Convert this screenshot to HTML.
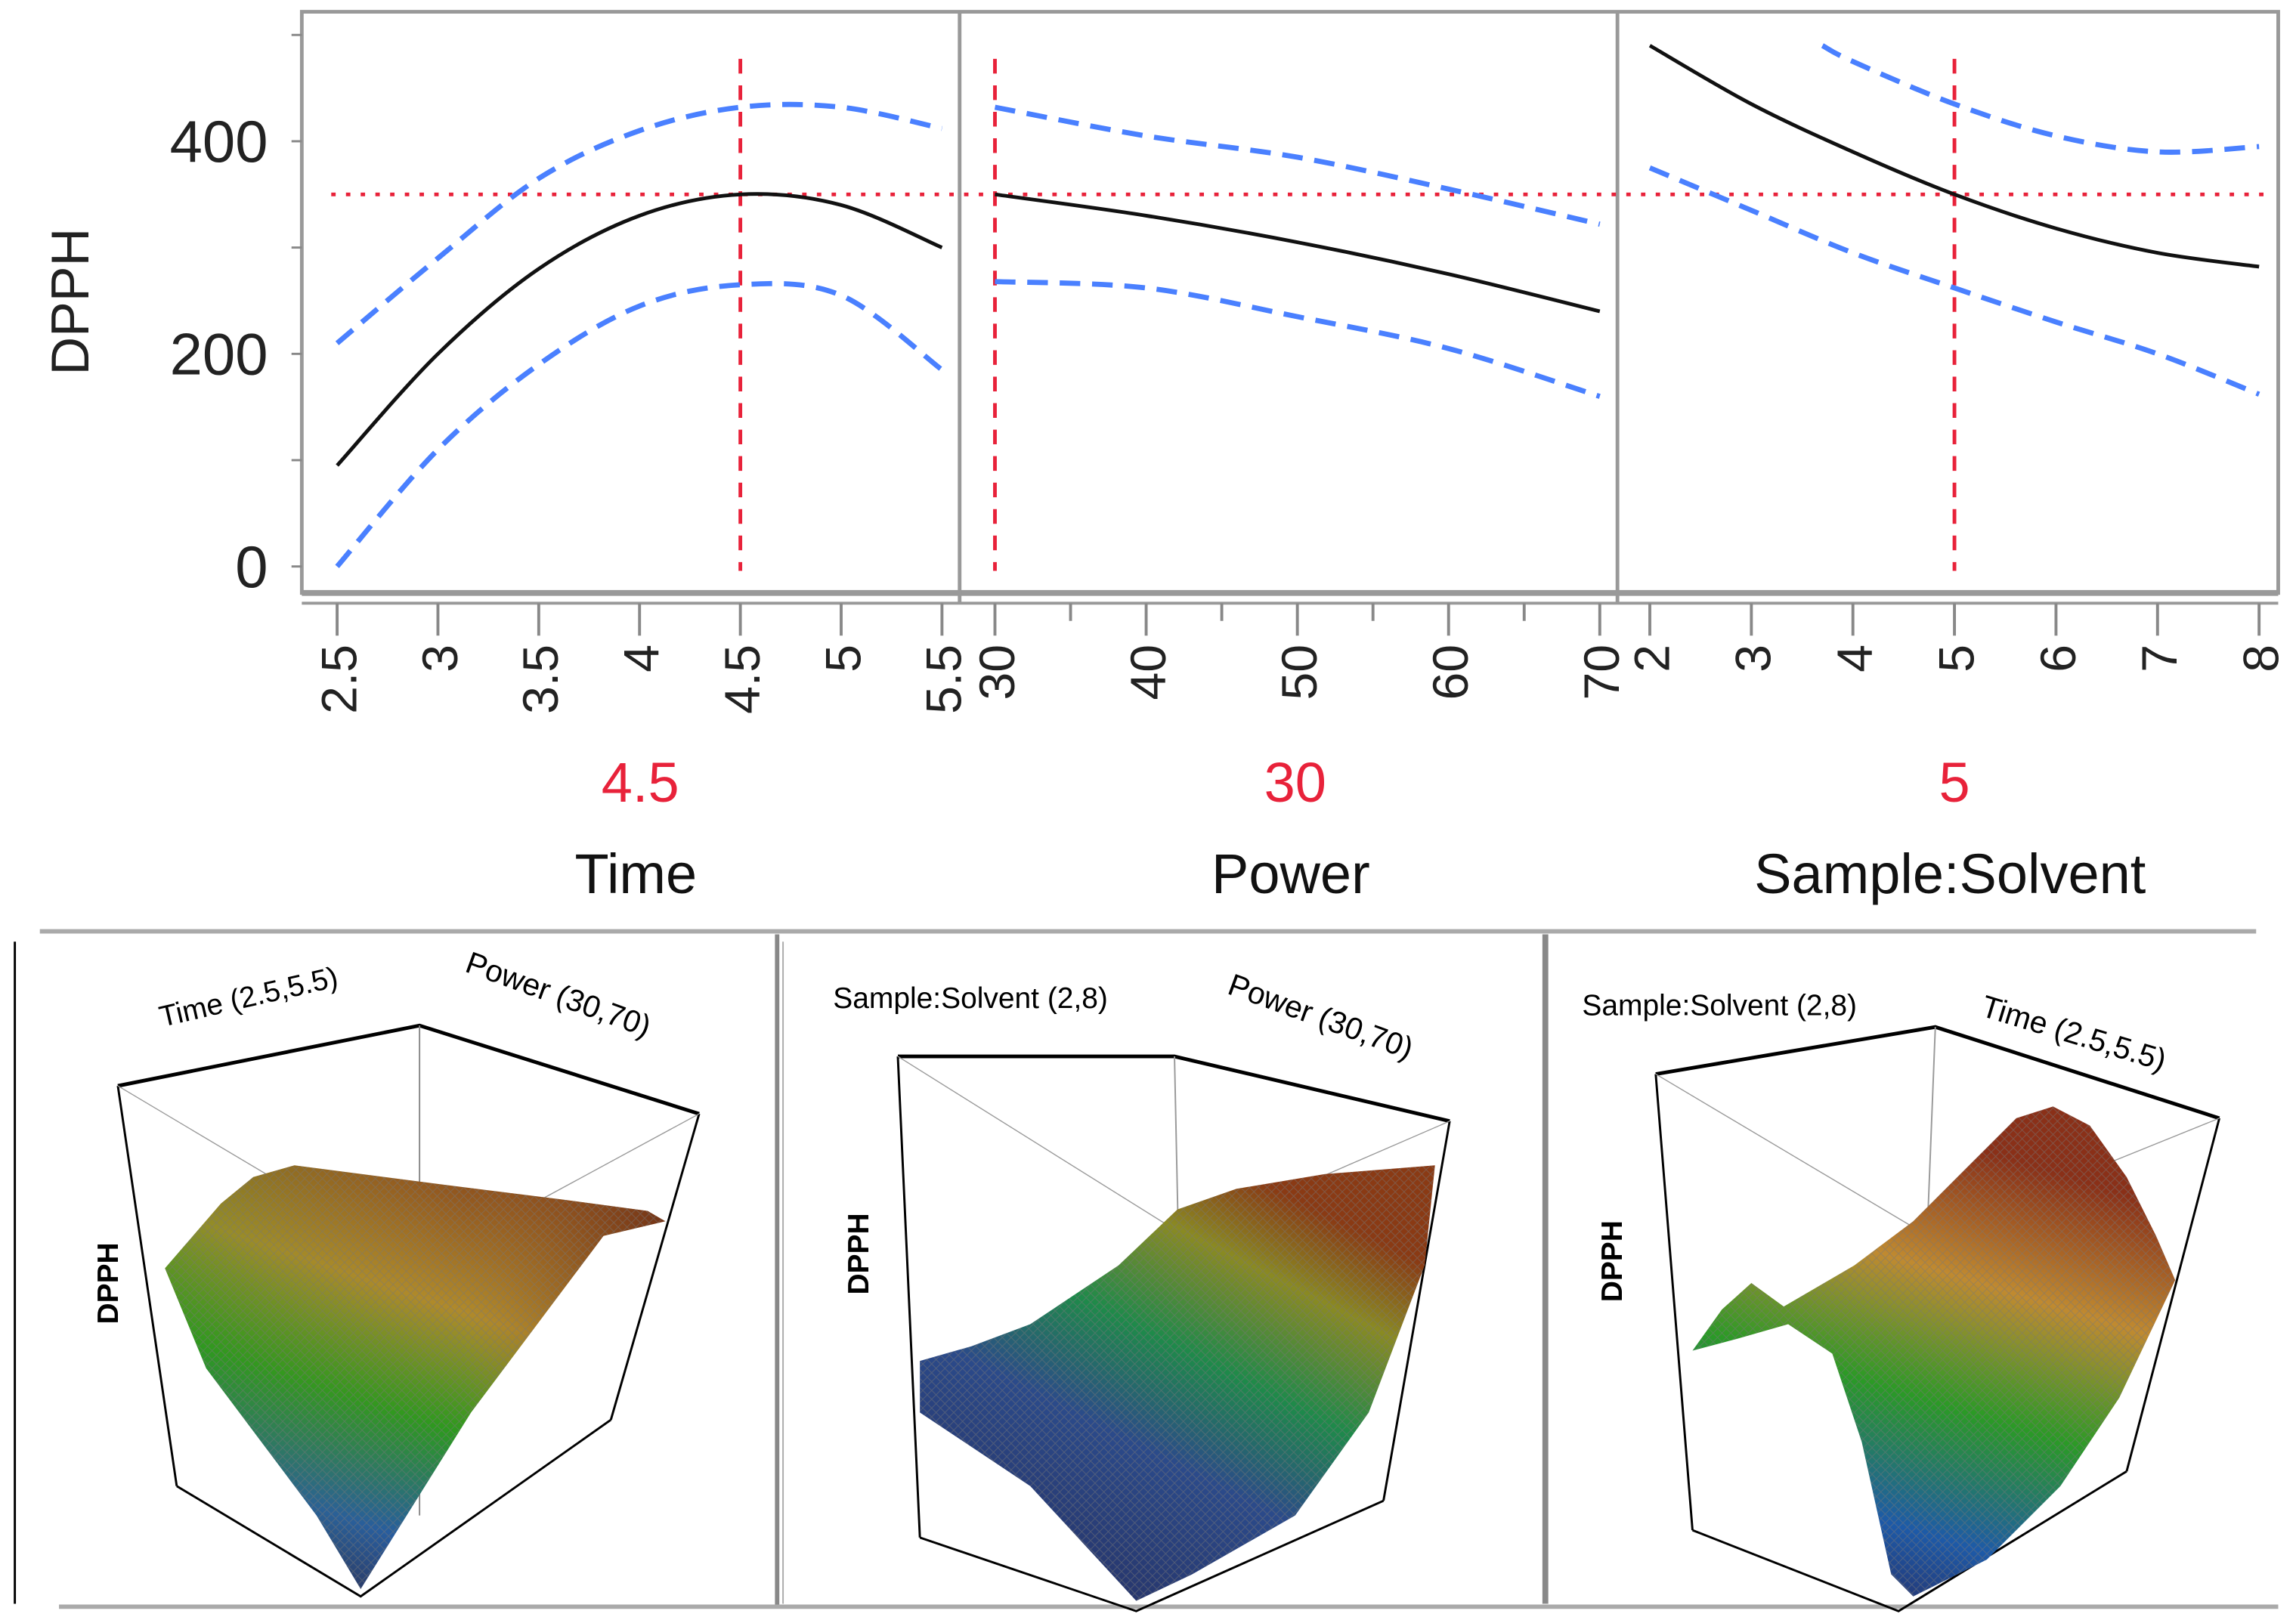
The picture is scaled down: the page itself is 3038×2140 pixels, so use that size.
<!DOCTYPE html>
<html><head><meta charset="utf-8"><style>
html,body{margin:0;padding:0;background:#fff}
svg{display:block}
text{font-family:"Liberation Sans",sans-serif}
</style></head><body>
<svg id="chart" xmlns="http://www.w3.org/2000/svg" width="3038" height="2140" viewBox="0 0 1560 1099">
<defs>
<linearGradient id="g1" x1="0.2" y1="1" x2="0.6" y2="0">
<stop offset="0" stop-color="#22245a"/><stop offset="0.2" stop-color="#1f5aa8"/><stop offset="0.45" stop-color="#2a9a1e"/><stop offset="0.7" stop-color="#b08a2a"/><stop offset="1" stop-color="#8a4a1c"/></linearGradient>
<linearGradient id="g1b" x1="0" y1="0" x2="1" y2="0">
<stop offset="0" stop-color="#2a9a1e" stop-opacity="0.3"/><stop offset="0.6" stop-color="#b07a2a" stop-opacity="0"/><stop offset="1" stop-color="#6a2a14" stop-opacity="0.7"/></linearGradient>
<linearGradient id="g2" x1="0" y1="1" x2="0.6" y2="0">
<stop offset="0" stop-color="#252a5a"/><stop offset="0.45" stop-color="#2b4a8a"/><stop offset="0.65" stop-color="#1e8a4a"/><stop offset="0.85" stop-color="#8a8a22"/><stop offset="1" stop-color="#8a3a14"/></linearGradient>
<linearGradient id="g3" x1="0" y1="1" x2="0.3" y2="0">
<stop offset="0" stop-color="#2a1e50"/><stop offset="0.25" stop-color="#1d5aa8"/><stop offset="0.5" stop-color="#2a9a26"/><stop offset="0.75" stop-color="#c08a30"/><stop offset="1" stop-color="#8a3018"/></linearGradient>
<pattern id="mesh" width="6" height="6" patternUnits="userSpaceOnUse"><path d="M0 6L6 0M0 0L6 6" stroke="#777" stroke-width="0.5" opacity="0.5"/></pattern>
</defs>
<g id="profiler"></g>

<g>
<line x1="27" y1="633" x2="1533" y2="633" stroke="#aaa" stroke-width="3"/>
<line x1="10" y1="640" x2="10" y2="1090" stroke="#000" stroke-width="1.5"/>
<line x1="528" y1="635" x2="528" y2="1092" stroke="#888" stroke-width="3"/>
<line x1="532" y1="640" x2="532" y2="1090" stroke="#aaa" stroke-width="1"/>
<line x1="1050" y1="635" x2="1050" y2="1090" stroke="#888" stroke-width="4"/>
<line x1="40" y1="1092" x2="1548" y2="1092" stroke="#aaa" stroke-width="3"/>

<g>
<polyline points="80,738 285,697 475,757" fill="none" stroke="#000" stroke-width="2.5"/>
<line x1="80" y1="738" x2="120" y2="1010" stroke="#000" stroke-width="1.5"/>
<line x1="475" y1="757" x2="415" y2="965" stroke="#000" stroke-width="1.5"/>
<line x1="285" y1="697" x2="285" y2="1030" stroke="#888" stroke-width="1"/>
<line x1="80" y1="738" x2="285" y2="860" stroke="#999" stroke-width="0.7"/>
<line x1="475" y1="757" x2="285" y2="860" stroke="#999" stroke-width="0.7"/>
<polyline points="120,1010 245,1085 415,965" fill="none" stroke="#000" stroke-width="1.5"/>
<polygon points="112,862 150,818 172,800 200,792 300,805 380,815 440,823 452,830 410,840 380,880 320,960 270,1040 245,1080 215,1030 140,930" fill="url(#g1)"/>
<polygon points="112,862 150,818 172,800 200,792 300,805 380,815 440,823 452,830 410,840 380,880 320,960 270,1040 245,1080 215,1030 140,930" fill="url(#g1b)"/>
<polygon points="112,862 150,818 172,800 200,792 300,805 380,815 440,823 452,830 410,840 380,880 320,960 270,1040 245,1080 215,1030 140,930" fill="url(#mesh)"/>
<text x="0" y="0" transform="translate(110,698) rotate(-13)" font-size="20" fill="#000">Time (2.5,5.5)</text>
<text x="0" y="0" transform="translate(315,660) rotate(20)" font-size="21" fill="#000">Power (30,70)</text>
<text x="0" y="0" transform="translate(80,900) rotate(-90)" font-size="20" font-weight="bold" fill="#000">DPPH</text>
</g>

<g>
<polyline points="610,718 798,718 985,762" fill="none" stroke="#000" stroke-width="2.5"/>
<line x1="610" y1="718" x2="625" y2="1045" stroke="#000" stroke-width="1.5"/>
<line x1="985" y1="762" x2="940" y2="1020" stroke="#000" stroke-width="1.5"/>
<line x1="798" y1="718" x2="805" y2="1050" stroke="#999" stroke-width="1"/>
<line x1="610" y1="718" x2="805" y2="840" stroke="#999" stroke-width="0.7"/>
<line x1="985" y1="762" x2="805" y2="840" stroke="#999" stroke-width="0.7"/>
<polyline points="625,1045 772,1095 940,1020" fill="none" stroke="#000" stroke-width="1.5"/>
<polygon points="625,925 660,915 700,900 760,860 800,822 840,808 900,798 975,792 968,860 930,960 880,1030 810,1070 772,1088 700,1010 625,960" fill="url(#g2)"/>
<polygon points="625,925 660,915 700,900 760,860 800,822 840,808 900,798 975,792 968,860 930,960 880,1030 810,1070 772,1088 700,1010 625,960" fill="url(#mesh)"/>
<text x="566" y="685" font-size="20" fill="#000">Sample:Solvent (2,8)</text>
<text x="0" y="0" transform="translate(833,675) rotate(20)" font-size="21" fill="#000">Power (30,70)</text>
<text x="0" y="0" transform="translate(590,880) rotate(-90)" font-size="20" font-weight="bold" fill="#000">DPPH</text>
</g>

<g>
<polyline points="1125,730 1315,698 1508,760" fill="none" stroke="#000" stroke-width="2.5"/>
<line x1="1125" y1="730" x2="1150" y2="1040" stroke="#000" stroke-width="1.5"/>
<line x1="1508" y1="760" x2="1445" y2="1000" stroke="#000" stroke-width="1.5"/>
<line x1="1315" y1="698" x2="1300" y2="1080" stroke="#999" stroke-width="1"/>
<line x1="1125" y1="730" x2="1310" y2="840" stroke="#999" stroke-width="0.7"/>
<line x1="1508" y1="760" x2="1310" y2="840" stroke="#999" stroke-width="0.7"/>
<polyline points="1150,1040 1290,1095 1445,1000" fill="none" stroke="#000" stroke-width="1.5"/>
<polygon points="1150,918 1170,890 1190,872 1212,888 1260,860 1300,830 1340,790 1370,760 1395,752 1420,765 1445,800 1465,840 1478,870 1440,950 1400,1010 1350,1060 1300,1085 1285,1070 1265,980 1245,920 1215,900 1180,910" fill="url(#g3)"/>
<polygon points="1150,918 1170,890 1190,872 1212,888 1260,860 1300,830 1340,790 1370,760 1395,752 1420,765 1445,800 1465,840 1478,870 1440,950 1400,1010 1350,1060 1300,1085 1285,1070 1265,980 1245,920 1215,900 1180,910" fill="url(#mesh)"/>
<text x="1075" y="690" font-size="20" fill="#000">Sample:Solvent (2,8)</text>
<text x="0" y="0" transform="translate(1345,690) rotate(17)" font-size="21" fill="#000">Time (2.5,5.5)</text>
<text x="0" y="0" transform="translate(1102,885) rotate(-90)" font-size="20" font-weight="bold" fill="#000">DPPH</text>
</g>
</g>
</svg>
<script>
const timeX = [2.5, 3, 3.5, 4, 4.5, 5, 5.5];
const timeMean = [95, 200, 280, 330, 350, 340, 300];
const timeUpper = [210, 290, 365, 410, 432, 432, 412];
const timeLower = [0, 110, 190, 245, 265, 255, 185];
const powerX = [30, 40, 50, 60, 70];
const powerMean = [350, 330, 305, 275, 240];
const powerUpper = [432, 405, 385, 355, 322];
const powerLower = [268, 262, 235, 205, 160];
const solvX = [2, 3, 4, 5, 6, 7, 8];
const solvMean = [490, 435, 390, 350, 318, 295, 282];
const solvUpperX = [3.7, 4, 5, 6, 7, 8];
const solvUpper = [490, 475, 435, 405, 390, 395];
const solvLower = [375, 335, 295, 262, 230, 200, 162];
const yTicks = [0, 200, 400];
const currentY = 350;
const timeTicks = ["2.5","3","3.5","4","4.5","5","5.5"];
const powerTicks = ["30","40","50","60","70"];
const solvTicks = ["2","3","4","5","6","7","8"];
const currentVals = [4.5, 30, 5];
const factorNames = ["Time","Power","Sample:Solvent"];

const NS = "http://www.w3.org/2000/svg";
const g = document.getElementById('profiler');
function el(tag, attrs, parent){const e=document.createElementNS(NS,tag);for(const k in attrs)e.setAttribute(k,attrs[k]);(parent||g).appendChild(e);return e;}
const yScale = v => 385 - v*0.7225;
const panels = [
 {x0:229,x1:640,d0:2.5,d1:5.5,xs:timeX,mean:timeMean,ux:timeX,up:timeUpper,lo:timeLower,ticks:timeTicks,minor:[],cur:currentVals[0],tx:435},
 {x0:676,x1:1087,d0:30,d1:70,xs:powerX,mean:powerMean,ux:powerX,up:powerUpper,lo:powerLower,ticks:powerTicks,minor:[35,45,55,65],cur:currentVals[1],tx:880},
 {x0:1121,x1:1535,d0:2,d1:8,xs:solvX,mean:solvMean,ux:solvUpperX,up:solvUpper,lo:solvLower,ticks:solvTicks,minor:[],cur:currentVals[2],tx:1328}
];
const fr=el('rect',{x:205,y:8,width:1343,height:395,fill:'none',stroke:'#999','stroke-width':2.5});


el('line',{x1:205,y1:403,x2:1548,y2:403,stroke:'#999','stroke-width':4});
[652,1099].forEach(x=>{const l=el('line',{x1:x,y1:8,x2:x,y2:410,stroke:'#999','stroke-width':2.5});

});
for(let v=0;v<=500;v+=100){el('line',{x1:198,y1:yScale(v),x2:205,y2:yScale(v),stroke:'#888','stroke-width':1.5});}
yTicks.forEach(v=>{const t=el('text',{x:182,y:yScale(v)+14,'text-anchor':'end','font-size':40,fill:'#222'});t.textContent=v;

});
const yt=el('text',{transform:'translate(60,205) rotate(-90)','text-anchor':'middle','font-size':36,fill:'#222'});yt.textContent='DPPH';


const hl=el('line',{x1:225,y1:yScale(currentY),x2:1540,y2:yScale(currentY),stroke:'#e8223a','stroke-width':2.5,'stroke-dasharray':'3 7'});


el('line',{x1:205,y1:410,x2:1548,y2:410,stroke:'#999','stroke-width':2});
panels.forEach((p,i)=>{
 const xs=v=>p.x0+(v-p.d0)/(p.d1-p.d0)*(p.x1-p.x0);
 function smooth(X,Y){
  const P=X.map((x,j)=>[xs(x),yScale(Y[j])]);let d='M'+P[0][0]+' '+P[0][1];
  for(let j=0;j<P.length-1;j++){const p0=P[Math.max(j-1,0)],p1=P[j],p2=P[j+1],p3=P[Math.min(j+2,P.length-1)];
   d+=` C${p1[0]+(p2[0]-p0[0])/6} ${p1[1]+(p2[1]-p0[1])/6} ${p2[0]-(p3[0]-p1[0])/6} ${p2[1]-(p3[1]-p1[1])/6} ${p2[0]} ${p2[1]}`;}
  return d;}
 const vl=el('line',{x1:xs(p.cur),y1:40,x2:xs(p.cur),y2:388,stroke:'#e8223a','stroke-width':2.5,'stroke-dasharray':'10 8'});
 
 
 const u=el('path',{d:smooth(p.ux,p.up),fill:'none',stroke:'#4a80ff','stroke-width':3.5,'stroke-dasharray':'14 8'});
 
 
 const lo=el('path',{d:smooth(p.xs,p.lo),fill:'none',stroke:'#4a80ff','stroke-width':3.5,'stroke-dasharray':'14 8'});
 
 
 const m=el('path',{d:smooth(p.xs,p.mean),fill:'none',stroke:'#111','stroke-width':2.5});
 
 
 p.ticks.forEach(t=>{const x=xs(parseFloat(t));
  el('line',{x1:x,y1:410,x2:x,y2:432,stroke:'#888','stroke-width':2});
  const tl=el('text',{transform:`translate(${x+13},438) rotate(-90)`,'text-anchor':'end','font-size':34,fill:'#222'});tl.textContent=t;
  
  });
 p.minor.forEach(v=>{const x=xs(v);el('line',{x1:x,y1:410,x2:x,y2:422,stroke:'#888','stroke-width':2});});
 const cv=el('text',{x:p.tx,y:545,'text-anchor':'middle','font-size':38,fill:'#e8223a'});cv.textContent=String(currentVals[i]);
 
 
 const fn=el('text',{x:p.tx-3,y:607,'text-anchor':'middle','font-size':38,fill:'#111'});fn.textContent=factorNames[i];
 
 
});
</script>
</body></html>
